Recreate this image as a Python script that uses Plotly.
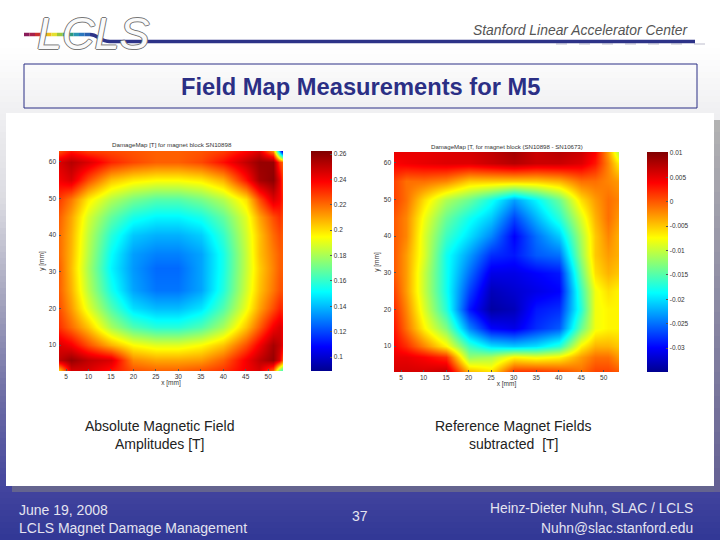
import plotly.graph_objects as go

W, H = 720, 540

# left map: absolute field [T]
x_left = [3.5, 6, 10, 15, 20, 25, 30, 35, 40, 45, 48, 51, 52.5, 53.4]
y_left = [63, 60, 55, 50, 45, 40, 35, 31, 25, 20, 15, 10, 6, 3]
z_left = [
    [.225, .235, .228, .226, .224, .222, .222, .224, .228, .238, .245, .215, .140, .090],
    [.245, .252, .245, .232, .226, .222, .222, .226, .236, .250, .258, .258, .230, .220],
    [.240, .245, .225, .205, .198, .195, .195, .198, .208, .235, .255, .260, .245, .225],
    [.228, .218, .198, .182, .172, .166, .166, .172, .182, .200, .225, .245, .240, .230],
    [.222, .210, .188, .168, .155, .150, .150, .155, .168, .190, .210, .225, .230, .225],
    [.220, .208, .184, .158, .142, .138, .138, .143, .160, .187, .205, .220, .225, .222],
    [.220, .207, .182, .152, .135, .130, .130, .136, .155, .185, .205, .217, .222, .222],
    [.222, .206, .180, .150, .134, .126, .126, .136, .155, .185, .203, .216, .222, .222],
    [.222, .208, .183, .155, .136, .128, .128, .136, .157, .187, .205, .218, .224, .224],
    [.225, .212, .190, .165, .146, .140, .140, .147, .165, .192, .210, .225, .232, .230],
    [.230, .220, .205, .180, .165, .158, .158, .165, .180, .205, .222, .240, .245, .240],
    [.245, .240, .225, .208, .195, .190, .190, .195, .205, .225, .240, .255, .250, .240],
    [.250, .258, .250, .245, .215, .210, .210, .212, .222, .240, .250, .258, .245, .220],
    [.200, .245, .245, .235, .225, .222, .222, .225, .230, .240, .245, .220, .170, .155],
]

# right map: reference subtracted [T]
x_right = [3.5, 6, 10, 15, 20, 25, 30, 35, 40, 45, 48, 51, 53.4]
y_right = [63, 60, 55, 50, 45, 40, 35, 30, 25, 20, 15, 10, 7, 3]
z_right = [
    [.005, .005, .005, .0055, .006, .007, .0085, .0065, .0075, .0065, .004, -.003, -.011],
    [.004, .0045, .005, .0055, .0055, .0065, .0075, .0065, .0065, .0055, .003, -.002, -.007],
    [.001, -.001, -.001, -.002, -.005, -.005, -.005, -.005, -.004, -.001, -.001, -.002, -.003],
    [.001, -.001, -.006, -.011, -.014, -.018, -.023, -.019, -.014, -.006, -.003, -.001, -.002],
    [.000, -.002, -.008, -.014, -.018, -.021, -.027, -.022, -.017, -.009, -.004, -.001, -.003],
    [.000, -.002, -.009, -.016, -.020, -.024, -.030, -.025, -.021, -.011, -.005, -.002, -.004],
    [.000, -.003, -.009, -.018, -.023, -.028, -.029, -.026, -.025, -.012, -.005, -.003, -.004],
    [.000, -.003, -.010, -.018, -.025, -.031, -.031, -.030, -.029, -.014, -.006, -.004, -.005],
    [.001, -.003, -.010, -.018, -.027, -.033, -.032, -.031, -.030, -.016, -.008, -.006, -.007],
    [.002, -.002, -.009, -.017, -.029, -.034, -.033, -.029, -.028, -.017, -.008, -.007, -.007],
    [.003, -.001, -.007, -.013, -.024, -.030, -.031, -.028, -.026, -.014, -.008, -.007, -.007],
    [.004, .002, -.002, -.007, -.016, -.020, -.021, -.020, -.017, -.007, -.004, -.004, -.005],
    [.005, .005, .004, .002, -.012, -.011, -.007, -.008, -.007, -.003, -.001, -.001, -.003],
    [.006, .006, .006, .007, -.004, -.006, .002, .002, .001, -.001, .001, .001, .000],
]

ticks_left = [.1, .12, .14, .16, .18, .2, .22, .24, .26]
ticktext_left = ["0.1", "0.12", "0.14", "0.16", "0.18", "0.2", "0.22", "0.24", "0.26"]
ticks_right = [-.03, -.025, -.02, -.015, -.01, -.005, 0, .005, .01]
ticktext_right = ["-0.03", "-0.025", "-0.02", "-0.015", "-0.01", "-0.005", "0", "0.005", "0.01"]
x_ticks = [5, 10, 15, 20, 25, 30, 35, 40, 45, 50]
y_ticks = [10, 20, 30, 40, 50, 60]

jet = [[0, "rgb(0,0,143)"], [.11, "rgb(0,0,255)"], [.36, "rgb(0,255,255)"],
       [.61, "rgb(255,255,0)"], [.86, "rgb(255,0,0)"], [1, "rgb(128,0,0)"]]

TXT = "#333333"
NAVY = "#2b2f85"
SANS = "Liberation Sans"


def px(x):
    return x / W


def py(y):
    return 1 - y / H


def cbar(left, top, bottom, vals, text):
    return dict(x=px(left), xanchor="left", xpad=0, ypad=0, thickness=21,
                y=py(bottom), yanchor="bottom", lenmode="pixels", len=bottom - top,
                tickmode="array", tickvals=vals, ticktext=text,
                ticks="inside", ticklen=2, tickcolor="#555", tickwidth=.5,
                tickfont=dict(size=6.5, color=TXT, family=SANS), outlinewidth=0)


fig = go.Figure()
fig.add_trace(go.Heatmap(x=x_left, y=y_left, z=z_left, zsmooth="best", colorscale=jet,
                         zmin=.089, zmax=.2624,
                         colorbar=cbar(311, 151, 371, ticks_left, ticktext_left),
                         xaxis="x", yaxis="y"))
fig.add_trace(go.Heatmap(x=x_right, y=y_right, z=z_right, zsmooth="best", colorscale=jet,
                         zmin=-.0349, zmax=.0102,
                         colorbar=cbar(647, 152, 372, ticks_right, ticktext_right),
                         xaxis="x2", yaxis="y2"))

axis_style = dict(tickmode="array", ticks="inside", ticklen=2, tickwidth=.5, tickcolor="#555",
                  tickfont=dict(size=6.5, color=TXT, family=SANS), showgrid=False,
                  zeroline=False, showline=False)
title_font = dict(size=6.5, color=TXT, family=SANS)
fig.update_layout(
    width=W, height=H, margin=dict(l=0, r=0, t=0, b=0, pad=0),
    paper_bgcolor="white", plot_bgcolor="white", font=dict(family=SANS),
    xaxis=dict(domain=[px(59), px(283)], range=[3.44, 53.3], tickvals=x_ticks, anchor="y",
               title=dict(text="x [mm]", font=title_font, standoff=1), **axis_style),
    yaxis=dict(domain=[py(371), py(151)], range=[2.9, 63], tickvals=y_ticks, anchor="x",
               ticklabelstandoff=2,
               title=dict(text="y [mm]", font=title_font, standoff=3), **axis_style),
    xaxis2=dict(domain=[px(394), px(619)], range=[3.44, 53.4], tickvals=x_ticks, anchor="y2",
                title=dict(text="x [mm]", font=title_font, standoff=1), **axis_style),
    yaxis2=dict(domain=[py(372), py(152)], range=[2.9, 63], tickvals=y_ticks, anchor="x2",
                ticklabelstandoff=2,
                title=dict(text="y [mm]", font=title_font, standoff=3), **axis_style),
)

# slide background, painted behind everything as thin bands
bg_stops = [(0, (255, 255, 255)), (50, (255, 255, 255)), (113, (240, 240, 242)), (200, (220, 220, 226)),
            (300, (165, 165, 190)), (400, (108, 108, 165)), (490, (66, 68, 158)), (540, (50, 56, 150))]


def bg_color(y):
    for (y0, c0), (y1, c1) in zip(bg_stops, bg_stops[1:]):
        if y0 <= y <= y1:
            t = (y - y0) / (y1 - y0)
            return "rgb(%d,%d,%d)" % tuple(a + (b - a) * t for a, b in zip(c0, c1))
    return "white"


def rect(x0, y0, x1, y1, fill, line=None, width=0):
    fig.add_shape(type="rect", xref="paper", yref="paper", x0=px(x0), x1=px(x1), y0=py(y1), y1=py(y0),
                  fillcolor=fill, line=dict(color=line, width=width) if line else dict(width=0),
                  layer="below")


for y in range(0, H, 6):
    rect(0, y, W, y + 6, bg_color(y + 3))

# panel shadow and panel
for y in range(120, 492, 12):
    t = (y - 120) / 372
    g = "rgb(%d,%d,%d)" % (178 - 80 * t, 178 - 84 * t, 178 - 30 * t)
    rect(714, y, 720, y + 12, g)
rect(12, 486, 714, 492, "#64648f")
rect(6, 113, 714, 486, "white")

# title box
rect(24, 64, 697, 108, "rgba(255,255,255,0)", line=NAVY, width=1)

# logo stripe
stripe = ["#8a1c5a", "#a8204a", "#c8302c", "#e86a1c", "#f2b81c", "#e4e030", "#9cc83c", "#4caa50",
          "#2a9a80", "#2a96b4", "#2a78c0", "#2a60b0"]
x0 = 24
for c in stripe:
    fig.add_shape(type="line", xref="paper", yref="paper", x0=px(x0), x1=px(x0 + 5.5), y0=py(34.5), y1=py(34.5),
                  line=dict(color=c, width=3.5), layer="above")
    x0 += 5.5
fig.add_shape(type="path", xref="paper", yref="paper",
              path="M %f %f C %f %f %f %f %f %f L %f %f" % (
                  px(90), py(34.5), px(98), py(34.5), px(100), py(41.5), px(110), py(41.5), px(695), py(41.5)),
              line=dict(color="#2d3388", width=3.5), layer="above")

# grey bar pattern under the right end of the stripe
for x in range(556, 695, 23):
    rect(x, 43, x + 11, 45, "rgba(190,190,205,0.5)")


def label(x, y, text, size, color, **kw):
    family = kw.pop("family", SANS)
    shadow = kw.pop("shadow", None)
    font = dict(size=size, color=color, family=family)
    if shadow:
        font["shadow"] = shadow
    fig.add_annotation(x=px(x), y=py(y), xref="paper", yref="paper", text=text, showarrow=False,
                       font=font, xanchor=kw.pop("xanchor", "center"), yanchor="middle", **kw)


outline = "1px 0 0 #777, -1px 0 0 #777, 0 1px 0 #777, 0 -1px 0 #777"
fig.layout.annotations = []
label(93, 33, "<i>LCLS</i>", 45, "#fafafa", shadow=outline)
label(581, 30, "<i>Stanford Linear Accelerator Center</i>", 13.9, "#555555")
label(360, 87, "<b>Field Map Measurements for M5</b>", 23.7, NAVY)
label(172, 144.5, "DamageMap [T] for magnet block SN10898", 6.2, TXT)
label(507, 146, "DamageMap [T, for magnet block (SN10898 - SN10673)", 6.1, TXT)
label(159, 426, "Absolute Magnetic Field", 14, "#222222")
label(159, 444, "Amplitudes [T]", 14, "#222222")
label(513, 426, "Reference Magnet Fields", 14, "#222222")
label(513, 444, "subtracted  [T]", 14, "#222222")
label(16.5, 510, "June 19, 2008", 14, "#e4e4f0", xanchor="left")
label(16.5, 528, "LCLS Magnet Damage Management", 14, "#e4e4f0", xanchor="left")
label(360, 516, "37", 14, "#e4e4f0")
label(695, 509, "Heinz-Dieter Nuhn, SLAC / LCLS", 13.8, "#e4e4f0", xanchor="right")
label(695, 528, "Nuhn@slac.stanford.edu", 13.8, "#e4e4f0", xanchor="right")

# the page's default body margin would push the figure off the window
fig.write_html("out.html", config={"displayModeBar": False},
               post_script="document.body.style.margin='0';")
